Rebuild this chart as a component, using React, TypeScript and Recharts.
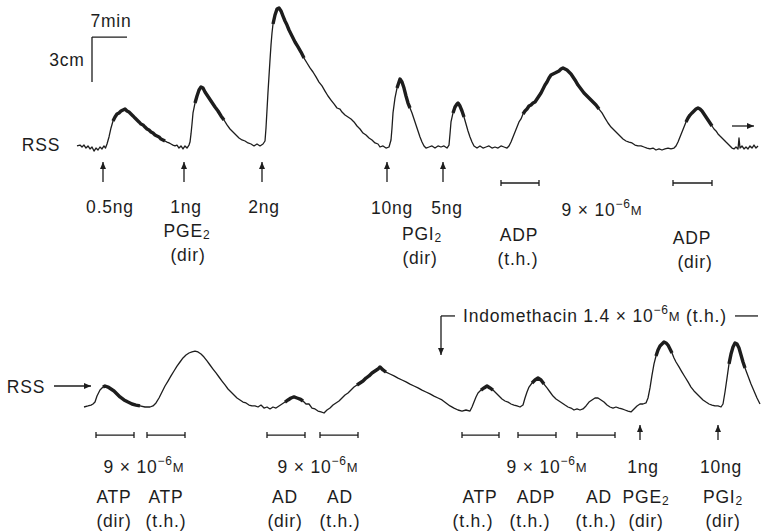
import React from 'react';
import { LineChart, Line, XAxis, YAxis, ReferenceLine, ReferenceDot } from 'recharts';

const FONT = '"Liberation Sans", Arial, Helvetica, sans-serif';
const INK = '#1d1d1d';
const FS = 17.5;
const T_DOMAIN: [number, number] = [0, 152.6]; // recording time, min

type Pt = [number, number];

// ---- top record: [time (min), pen deflection (mm)] ----
const topTrace: Pt[] = [
  [15.4,2.7],[16.0,3.3],[16.4,2.0],[16.8,3.3],[17.2,1.3],[17.6,2.7],[18.0,0.7],[18.4,2.0],[18.8,-0.7],[19.2,1.3],
  [19.6,0],[20.0,2.0],[20.4,0.7],[20.8,2.7],[21.1,1.3],[21.4,4.0],[21.8,8.7],[22.2,14.7],[22.6,19.3],[23.0,22.0],
  [23.4,24.0],[23.8,24.7],[24.2,26.0],[24.6,26.7],[25.0,27.3],[25.4,26.0],[25.8,25.3],[26.2,24.0],[26.6,22.7],[27.0,21.3],
  [27.4,20.0],[27.8,18.7],[28.2,17.3],[28.6,16.7],[29.0,15.3],[29.4,14.0],[29.8,13.3],[30.2,12.0],[30.6,11.3],[31.0,10.0],
  [31.4,9.3],[31.8,8.7],[32.2,7.3],[32.6,6.7],[33.0,6.0],[33.4,5.3],[33.8,4.7],[34.2,4.0],[34.6,3.3],[35.0,2.7],
  [35.4,3.3],[35.8,1.3],[36.2,2.7],[36.6,0.7],[37.0,2.7],[37.4,1.3],[37.8,3.3],[38.0,5.3],[38.2,10.7],[38.4,17.3],
  [38.6,24.7],[39.0,31.3],[39.4,36.0],[39.8,40.0],[40.2,42.0],[40.6,41.3],[41.0,38.7],[41.4,36.7],[41.8,34.7],[42.2,32.7],
  [42.6,30.7],[43.0,28.7],[43.6,26.0],[44.2,22.7],[44.8,20.0],[45.4,16.7],[46.0,14.0],[46.6,12.0],[47.2,10.0],[47.8,8.0],
  [48.4,6.7],[49.0,6.0],[49.6,4.7],[50.2,4.0],[50.8,2.7],[51.4,4.0],[52.0,2.7],[52.6,4.0],[53.0,6.0],[53.2,14.7],
  [53.4,26.7],[53.6,38.7],[53.8,49.3],[54.0,60.0],[54.2,70.0],[54.4,78.0],[54.6,84.0],[55.0,90.0],[55.4,94.0],[55.8,94.7],
  [56.2,92.7],[56.6,89.3],[57.0,86.0],[57.4,83.3],[57.8,80.0],[58.4,76.0],[59.0,72.0],[59.6,68.7],[60.2,65.3],[60.8,61.3],
  [61.4,58.0],[62.0,54.7],[62.6,52.0],[63.2,48.7],[63.8,45.3],[64.4,42.7],[65.0,39.3],[65.6,36.0],[66.2,33.3],[66.8,30.7],
  [67.4,28.0],[68.0,27.3],[68.4,25.3],[69.0,23.3],[69.6,22.0],[70.2,20.7],[70.8,18.7],[71.4,16.0],[72.0,14.0],[72.6,11.3],
  [73.2,10.0],[73.8,8.0],[74.4,6.7],[75.0,4.7],[75.6,4.0],[76.0,2.0],[76.6,2.7],[77.2,1.3],[77.8,2.0],[78.2,6.7],
  [78.4,14.7],[78.6,24.7],[79.0,34.7],[79.4,41.3],[79.8,45.3],[80.0,47.3],[80.4,45.3],[80.8,41.3],[81.2,36.0],[81.6,31.3],
  [82.0,28.0],[82.4,24.7],[82.8,20.7],[83.2,16.7],[83.6,12.7],[84.0,8.7],[84.4,5.3],[84.8,2.7],[85.2,1.3],[85.8,2.0],
  [86.4,2.7],[87.0,1.3],[87.6,2.7],[88.2,2.0],[88.8,2.7],[89.4,1.3],[89.8,3.3],[90.0,10.7],[90.2,18.7],[90.6,24.7],
  [91.0,28.7],[91.4,30.7],[91.6,31.3],[92.0,29.3],[92.4,26.0],[92.8,22.0],[93.2,17.3],[93.6,12.7],[94.0,8.7],[94.4,5.3],
  [94.8,2.7],[95.4,1.3],[96.0,2.7],[96.6,1.3],[97.2,2.0],[97.8,2.7],[98.4,1.3],[99.0,2.0],[99.6,1.3],[100.2,2.7],
  [100.8,2.0],[101.4,1.3],[101.8,2.7],[102.2,5.3],[102.6,8.7],[103.0,12.0],[103.4,15.3],[103.8,18.7],[104.2,20.7],[104.6,24.0],
  [105.0,26.0],[105.4,27.3],[105.8,29.3],[106.2,30.0],[106.6,31.3],[107.0,32.0],[107.4,34.0],[107.8,36.0],[108.2,38.0],[108.6,40.7],
  [109.0,43.3],[109.4,45.3],[109.8,48.0],[110.2,50.0],[110.6,50.7],[111.0,51.3],[111.4,52.0],[111.8,52.7],[112.2,54.0],[112.6,54.7],
  [113.0,54.0],[113.4,53.3],[113.8,52.0],[114.2,50.7],[114.6,48.7],[115.0,46.7],[115.6,43.3],[116.2,40.7],[116.8,38.0],[117.4,36.0],
  [118.0,34.0],[118.6,32.0],[119.2,30.0],[119.8,27.3],[120.4,24.7],[121.0,21.3],[121.6,18.0],[122.2,15.3],[122.8,13.3],[123.4,11.3],
  [124.0,9.3],[124.6,7.3],[125.2,6.0],[125.8,5.3],[126.4,4.7],[127.0,3.3],[127.6,2.7],[128.2,2.7],[128.8,2.0],[129.4,1.3],
  [130.0,0.7],[130.6,1.3],[131.2,0],[131.8,0.7],[132.4,0],[133.0,0.7],[133.6,1.3],[134.2,0.7],[134.8,1.3],[135.2,2.7],
  [135.6,5.3],[136.0,8.7],[136.4,12.0],[136.8,15.3],[137.2,18.7],[137.6,21.3],[138.0,23.3],[138.4,24.7],[138.8,26.0],[139.2,27.3],
  [139.6,28.0],[140.0,27.3],[140.4,26.0],[140.8,24.0],[141.2,22.0],[141.6,20.0],[142.0,18.0],[142.4,16.0],[142.8,14.0],[143.2,12.7],
  [143.6,10.7],[144.0,9.3],[144.4,8.0],[144.8,6.7],[145.2,5.3],[145.6,4.0],[146.0,2.7],[146.4,1.3],[146.8,0.7],[147.2,2.0],
  [147.6,0.7],[147.8,8.0],[148.0,1.3],[148.4,2.7],[148.8,0.7],[149.2,2.0],[149.6,0.7],[150.0,2.7],[150.4,1.3],[150.8,3.3],
  [151.2,1.3],[151.6,2.7],
];
// stretches where the pen oscillation makes the record thick: [from, to] (min)
const topThick: Pt[] = [[22.4,33.0],[39.0,45.0],[54.6,61.0],[79.2,82.0],[90.6,93.0],[104.6,120.0],[137.2,142.4]];

// ---- bottom record ----
const bottomTrace: Pt[] = [
  [16.8,2.0],[17.6,2.7],[18.2,3.3],[18.6,4.0],[19.0,5.3],[19.4,9.3],[20.0,13.3],[20.6,15.3],[21.0,16.0],[21.6,15.3],
  [22.2,14.0],[22.8,12.7],[23.4,10.7],[24.0,8.7],[24.8,6.7],[25.6,5.3],[26.4,4.0],[27.2,3.3],[28.0,2.7],[29.0,2.0],
  [30.0,2.0],[30.6,2.7],[31.2,4.7],[31.8,8.0],[32.4,12.0],[33.0,16.0],[33.6,19.3],[34.2,22.7],[34.8,26.0],[35.4,29.3],
  [36.0,32.0],[36.6,34.7],[37.2,36.7],[37.8,38.0],[38.4,38.7],[39.0,39.3],[39.6,38.7],[40.2,37.3],[40.8,35.3],[41.4,32.7],
  [42.0,30.0],[42.6,27.3],[43.2,24.7],[43.8,22.0],[44.4,19.3],[45.0,16.7],[45.6,14.0],[46.2,12.0],[46.8,10.0],[47.4,8.0],
  [48.0,6.7],[48.6,5.3],[49.2,4.7],[49.8,3.3],[50.4,2.7],[51.0,2.7],[51.6,2.0],[52.2,3.3],[52.8,1.3],[53.4,2.0],
  [54.0,0.7],[54.6,2.0],[55.2,1.3],[55.8,2.7],[56.4,4.0],[57.0,5.3],[57.6,6.7],[58.2,8.0],[58.8,8.7],[59.4,8.0],
  [60.0,7.3],[60.6,6.0],[61.2,4.0],[61.8,4.0],[62.4,1.3],[63.0,0.7],[63.6,-0.7],[64.2,-1.3],[64.8,-2.0],[65.4,0],
  [66.0,1.3],[66.6,3.3],[67.2,4.7],[67.8,6.0],[68.4,8.0],[69.0,10.0],[69.6,11.3],[70.2,13.3],[70.8,15.3],[71.4,16.7],
  [72.0,18.0],[72.6,19.3],[73.2,21.3],[73.8,22.7],[74.4,24.7],[75.0,26.0],[75.6,27.3],[76.0,28.7],[76.6,26.7],[77.2,25.3],
  [78.0,24.0],[78.8,22.7],[79.6,21.3],[80.4,20.0],[81.2,18.7],[82.0,17.3],[82.8,16.0],[83.6,14.7],[84.4,13.3],[85.2,12.0],
  [86.0,10.7],[86.8,9.3],[87.6,8.0],[88.4,6.7],[89.2,4.7],[90.0,2.7],[90.8,1.3],[91.6,0],[92.4,-0.7],[93.2,0],
  [94.0,-0.7],[94.4,2.0],[94.8,5.3],[95.2,8.7],[95.6,11.3],[96.2,13.3],[96.8,14.7],[97.4,16.0],[98.0,14.7],[98.6,13.3],
  [99.2,11.3],[99.8,9.3],[100.4,7.3],[101.0,6.0],[101.6,5.3],[102.2,4.0],[102.8,3.3],[103.4,2.7],[104.0,2.0],[104.6,3.3],
  [105.0,8.0],[105.4,12.0],[105.8,15.3],[106.4,18.0],[107.0,20.0],[107.6,21.3],[108.2,20.0],[108.8,17.3],[109.4,14.7],[110.0,12.0],
  [110.6,9.3],[111.2,7.3],[111.8,6.0],[112.4,4.7],[113.0,3.3],[113.6,2.0],[114.2,1.3],[114.8,0],[115.4,0.7],[116.0,0],
  [116.6,0.7],[117.2,2.7],[117.8,5.3],[118.4,6.7],[119.0,8.0],[119.6,8.0],[120.2,6.7],[120.8,5.3],[121.4,3.3],[122.0,2.0],
  [122.6,1.3],[123.2,2.0],[123.8,1.3],[124.4,0.7],[125.0,0],[125.6,-0.7],[126.2,-1.3],[126.8,0.7],[127.4,2.7],[128.0,4.0],
  [128.6,4.0],[129.2,4.7],[129.6,8.0],[130.0,14.7],[130.4,23.3],[130.8,30.7],[131.2,36.0],[131.6,40.0],[132.0,42.7],[132.4,44.0],
  [132.8,45.3],[133.2,44.7],[133.6,43.3],[134.0,40.7],[134.4,38.0],[134.8,34.7],[135.2,32.0],[135.8,28.7],[136.4,25.3],[137.0,22.0],
  [137.6,18.7],[138.2,15.3],[138.8,12.7],[139.4,10.7],[140.0,8.7],[140.6,6.7],[141.2,5.3],[141.8,4.0],[142.4,3.3],[143.0,2.7],
  [143.6,2.7],[144.2,2.0],[144.6,4.0],[145.0,12.0],[145.4,21.3],[145.8,30.7],[146.2,37.3],[146.6,42.0],[147.0,44.7],[147.4,44.0],
  [147.8,41.3],[148.2,36.7],[148.6,32.0],[149.0,28.0],[149.6,22.7],[150.2,17.3],[150.8,12.7],[151.4,8.0],[152.0,4.0],
];
const bottomThick: Pt[] = [[20.4,28.0],[57.0,61.0],[71.0,77.4],[96.0,99.0],[106.0,109.0],[131.0,134.4],[145.8,149.0]];

// ---- annotations (time in min, level in mm of deflection) ----
const topInjections = [20.6, 36.8, 52.4, 77.4, 88.6];
const topInfusions: Pt[] = [[100.2, 107.8], [134.6, 142.4]];
const bottomInjections = [128.0, 143.6];
const bottomInfusions: Pt[] = [[19.2,26.8],[29.4,37.0],[53.4,61.0],[64.0,71.6],[92.4,99.8],[103.6,111.2],[115.4,123.0]];

type Lbl = { t: number; d: number; text: string; anchor?: 'start' | 'middle' | 'end' };
const topLabels: Lbl[] = [
  { t: 8.2, d: 3.3, text: 'RSS' },
  { t: 22.2, d: 86, text: '7min' },
  { t: 13.4, d: 60, text: '3cm' },
  { t: 22.0, d: -38, text: '0.5ng' },
  { t: 37.2, d: -38, text: '1ng' },
  { t: 37.4, d: -54, text: 'PGE_2' },
  { t: 37.6, d: -70, text: '(dir)' },
  { t: 52.8, d: -38, text: '2ng' },
  { t: 78.4, d: -38.7, text: '10ng' },
  { t: 89.4, d: -38.7, text: '5ng' },
  { t: 84.4, d: -56, text: 'PGI_2' },
  { t: 84.0, d: -72, text: '(dir)' },
  { t: 103.8, d: -56.7, text: 'ADP' },
  { t: 103.6, d: -72.7, text: '(t.h.)' },
  { t: 120.4, d: -40, text: '9 × 10^−6~M' },
  { t: 138.4, d: -58.7, text: 'ADP' },
  { t: 139.0, d: -74.7, text: '(dir)' },
];
const bottomLabels: Lbl[] = [
  { t: 5.2, d: 15.3, text: 'RSS' },
  { t: 92.6, d: 62.7, text: 'Indomethacin 1.4 × 10^−6~M (t.h.)', anchor: 'start' },
  { t: 28.8, d: -38, text: '9 × 10^−6~M' },
  { t: 63.6, d: -38, text: '9 × 10^−6~M' },
  { t: 109.4, d: -38, text: '9 × 10^−6~M' },
  { t: 128.6, d: -38, text: '1ng' },
  { t: 144.2, d: -38, text: '10ng' },
  { t: 22.8, d: -58, text: 'ATP' },
  { t: 33.2, d: -58, text: 'ATP' },
  { t: 57.0, d: -58, text: 'AD' },
  { t: 68.0, d: -58, text: 'AD' },
  { t: 96.0, d: -58, text: 'ATP' },
  { t: 107.2, d: -58, text: 'ADP' },
  { t: 119.8, d: -58, text: 'AD' },
  { t: 129.2, d: -58, text: 'PGE_2' },
  { t: 144.6, d: -58, text: 'PGI_2' },
  { t: 22.8, d: -74, text: '(dir)' },
  { t: 33.2, d: -74, text: '(t.h.)' },
  { t: 57.0, d: -74, text: '(dir)' },
  { t: 68.0, d: -74, text: '(t.h.)' },
  { t: 94.6, d: -74, text: '(t.h.)' },
  { t: 106.0, d: -74, text: '(t.h.)' },
  { t: 119.2, d: -74, text: '(t.h.)' },
  { t: 129.2, d: -74, text: '(dir)' },
  { t: 144.6, d: -74, text: '(dir)' },
];

// ---------------------------------------------------------------
function toRows(trace: Pt[], thick: Pt[]) {
  return trace.map(([t, d]) => ({
    t,
    d,
    thick: thick.some(([a, b]) => t >= a && t <= b) ? d : null,
  }));
}

function RichText({ x, y, text, anchor = 'middle' }: { x: number; y: number; text: string; anchor?: string }) {
  const parts = text.split(/(_\d+|\^[^~\s]+|~M)/).filter((s) => s.length > 0);
  let cur = 0;
  const spans = parts.map((p, i) => {
    let target = 0;
    let size = FS;
    let content = p;
    if (p.startsWith('_')) { target = 4; size = 12; content = p.slice(1); }
    else if (p.startsWith('^')) { target = -6; size = 12; content = p.slice(1); }
    else if (p === '~M') { target = 0; size = 13; content = 'M'; }
    const dy = target - cur;
    cur = target;
    return (
      <tspan key={i} dy={dy} fontSize={size}>
        {content}
      </tspan>
    );
  });
  return (
    <text
      x={x}
      y={y}
      textAnchor={anchor as any}
      dominantBaseline="central"
      fontFamily={FONT}
      fontSize={FS}
      fill={INK}
      style={{ letterSpacing: '0.8px' }}
    >
      {spans}
    </text>
  );
}

function headShape(dir: 'up' | 'down' | 'right') {
  return (p: any) => {
    const cx = p.cx as number;
    const cy = p.cy as number;
    const L = 7;
    const H = 3;
    let pts = '';
    if (dir === 'up') pts = `${cx},${cy} ${cx - H},${cy + L} ${cx + H},${cy + L}`;
    if (dir === 'down') pts = `${cx},${cy} ${cx - H},${cy - L} ${cx + H},${cy - L}`;
    if (dir === 'right') pts = `${cx},${cy} ${cx - L},${cy - H} ${cx - L},${cy + H}`;
    return <polygon points={pts} fill={INK} />;
  };
}

function seg(key: string, a: Pt, b: Pt, w = 1.3) {
  return (
    <ReferenceLine
      key={key}
      segment={[{ x: a[0], y: a[1] }, { x: b[0], y: b[1] }]}
      stroke={INK}
      strokeWidth={w}
      ifOverflow="visible"
    />
  );
}

function head(key: string, t: number, d: number, dir: 'up' | 'down' | 'right') {
  return <ReferenceDot key={key} x={t} y={d} r={0} ifOverflow="visible" shape={headShape(dir)} />;
}

function labels(list: Lbl[], prefix: string) {
  return list.map((l, i) => (
    <ReferenceDot
      key={`${prefix}${i}`}
      x={l.t}
      y={l.d}
      r={0}
      ifOverflow="visible"
      shape={(p: any) => <RichText x={p.cx} y={p.cy} text={l.text} anchor={l.anchor} />}
    />
  ));
}

function upArrows(times: number[], tip: number, tail: number, prefix: string) {
  return times.flatMap((t, i) => [seg(`${prefix}s${i}`, [t, tip], [t, tail]), head(`${prefix}h${i}`, t, tip, 'up')]);
}

function infusionBars(list: Pt[], level: number, prefix: string) {
  return list.flatMap(([a, b], i) => [
    seg(`${prefix}b${i}`, [a, level], [b, level]),
    seg(`${prefix}l${i}`, [a, level + 2], [a, level - 2]),
    seg(`${prefix}r${i}`, [b, level + 2], [b, level - 2]),
  ]);
}

function Record({
  height,
  yDomain,
  trace,
  thick,
  children,
}: {
  height: number;
  yDomain: [number, number];
  trace: Pt[];
  thick: Pt[];
  children: React.ReactNode;
}) {
  return (
    <LineChart width={763} height={height} data={toRows(trace, thick)} margin={{ top: 0, right: 0, bottom: 0, left: 0 }}>
      <XAxis type="number" dataKey="t" domain={T_DOMAIN} hide allowDataOverflow />
      <YAxis type="number" domain={yDomain} hide allowDataOverflow />
      <Line
        dataKey="d"
        stroke={INK}
        strokeWidth={1.3}
        strokeLinejoin="round"
        dot={false}
        activeDot={false}
        isAnimationActive={false}
      />
      <Line
        dataKey="thick"
        stroke={INK}
        strokeWidth={3.4}
        strokeLinejoin="round"
        dot={false}
        activeDot={false}
        connectNulls={false}
        isAnimationActive={false}
      />
      {children}
    </LineChart>
  );
}

export default function App() {
  return (
    <div
      style={{
        position: 'absolute',
        left: 0,
        top: 0,
        width: 763,
        height: 532,
        background: '#ffffff',
        overflow: 'hidden',
      }}
    >
      <div style={{ position: 'absolute', left: 0, top: 0 }}>
        <Record height={279} yDomain={[-86, 100]} trace={topTrace} thick={topThick}>
          {seg('sbv', [18.4, 45.3], [18.4, 75.3])}
          {seg('sbh', [18.4, 75.3], [25.4, 75.3])}
          {upArrows(topInjections, -8, -21.3, 'ta')}
          {infusionBars(topInfusions, -22, 'tb')}
          {seg('endS', [146.4, 16], [150.8, 16])}
          {head('endH', 150.8, 16, 'right')}
          {labels(topLabels, 'tl')}
        </Record>
      </div>
      <div style={{ position: 'absolute', left: 0, top: 290 }}>
        <Record height={243} yDomain={[-82, 80]} trace={bottomTrace} thick={bottomThick}>
          {seg('rssS', [10.8, 16], [18.2, 16])}
          {head('rssH', 18.2, 16, 'right')}
          {seg('indoV', [88.2, 62.7], [88.2, 36.7])}
          {head('indoH', 88.2, 36.7, 'down')}
          {seg('indoL', [88.2, 62.7], [91.0, 62.7])}
          {seg('indoR', [147.0, 62.7], [151.6, 62.7])}
          {upArrows(bottomInjections, -10, -20, 'ba')}
          {infusionBars(bottomInfusions, -16.7, 'bb')}
          {labels(bottomLabels, 'bl')}
        </Record>
      </div>
    </div>
  );
}
